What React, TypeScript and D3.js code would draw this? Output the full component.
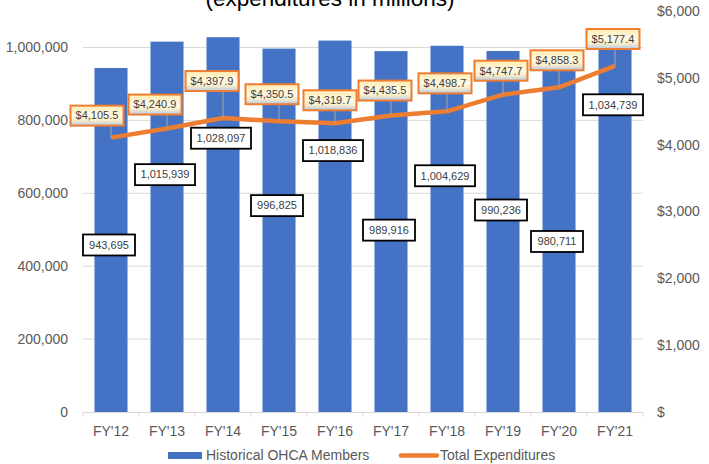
import * as d3 from "d3";

// Chart data
const years = ["FY'12", "FY'13", "FY'14", "FY'15", "FY'16", "FY'17", "FY'18", "FY'19", "FY'20", "FY'21"];
const members = [943695, 1015939, 1028097, 996825, 1018836, 989916, 1004629, 990236, 980711, 1034739];
const expenditures = [4105.5, 4240.9, 4397.9, 4350.5, 4319.7, 4435.5, 4498.7, 4747.7, 4858.3, 5177.4];
const memberTicks = [0, 200000, 400000, 600000, 800000, 1000000];
const expenditureTicks = [0, 1000, 2000, 3000, 4000, 5000, 6000];
const titleText = "(expenditures in millions)";
const legendLabels = ["Historical OHCA Members", "Total Expenditures"];

// Hand placed data label nudges (pixels), like the manual Excel label layout
const memberLabelDy = [177, 133, 101, 157, 110, 179, 130, 159, 187, 70];
const expLabelNudge: [number, number][] = [
  [-14, -22], [-12, -24], [-11, -37], [-7, -27], [-5, -23],
  [-6, -25], [-2, -28], [-2, -24], [-2, -27], [-2, -27],
];

const W = 709;
const H = 464;
const margin = { top: 11, right: 66, bottom: 52, left: 83 };
const FONT = "'Liberation Sans', Arial, sans-serif";

export default function App() {
  const plotBottom = H - margin.bottom;
  const plotRight = W - margin.right;

  const x = d3.scaleBand<string>().domain(years).range([margin.left, plotRight]).paddingInner(0.41).paddingOuter(0.205);
  const band = d3.scaleBand<string>().domain(years).range([margin.left, plotRight]);
  const yLeft = d3.scaleLinear().domain([0, 1100000]).range([plotBottom, margin.top]);
  const yRight = d3.scaleLinear().domain([0, 6000]).range([plotBottom, margin.top]);

  const fmtMembers = d3.format(",");
  const fmtMoney = (v: number) => (v === 0 ? "$" : "$" + d3.format(",")(v));
  const fmtExp = (v: number) => "$" + d3.format(",.1f")(v);

  const cx = (i: number) => (x(years[i]) ?? 0) + x.bandwidth() / 2;

  const line = d3
    .line<number>()
    .x((_, i) => cx(i))
    .y((d) => yRight(d));

  const expBoxW = 53;
  const expBoxH = 20;

  return (
    <svg width={W} height={H} style={{ position: "absolute", left: 0, top: 0, background: "#fff" }} fontFamily={FONT}>
      <defs>
        <linearGradient id="lblGrad" x1="0" y1="0" x2="0" y2="1">
          <stop offset="0%" stopColor="#FFEDB3" />
          <stop offset="50%" stopColor="#FFF8E4" />
          <stop offset="72%" stopColor="#FBEFC9" />
          <stop offset="100%" stopColor="#B4C7E7" />
        </linearGradient>
      </defs>

      {/* title, cut off at the top like the source */}
      <text x={330} y={6} textAnchor="middle" fontSize={22.5} fill="#000">
        {titleText}
      </text>

      {/* gridlines */}
      {memberTicks.slice(1).map((t) => (
        <line key={t} x1={margin.left} x2={plotRight} y1={yLeft(t)} y2={yLeft(t)} stroke="#d9d9d9" strokeWidth={1} />
      ))}

      {/* left axis labels */}
      {memberTicks.map((t) => (
        <text key={t} x={68} y={yLeft(t)} dy="0.35em" textAnchor="end" fontSize={14} fill="#595959">
          {fmtMembers(t)}
        </text>
      ))}

      {/* right axis labels */}
      {expenditureTicks.map((t) => (
        <text key={t} x={657} y={yRight(t)} dy="0.35em" textAnchor="start" fontSize={14} fill="#595959">
          {fmtMoney(t)}
        </text>
      ))}

      {/* bars */}
      {members.map((m, i) => (
        <rect key={i} x={x(years[i])} y={yLeft(m)} width={x.bandwidth()} height={plotBottom - yLeft(m)} fill="#4472C4" />
      ))}

      {/* x axis */}
      <line x1={margin.left} x2={plotRight} y1={plotBottom + 0.5} y2={plotBottom + 0.5} stroke="#d9d9d9" />
      {years.concat([""]).map((_, i) => {
        const bx = margin.left + band.step() * i;
        return <line key={i} x1={bx} x2={bx} y1={plotBottom} y2={plotBottom + 5} stroke="#d9d9d9" />;
      })}
      {years.map((yr, i) => (
        <text key={yr} x={cx(i)} y={plotBottom + 24} textAnchor="middle" fontSize={14} fill="#595959">
          {yr}
        </text>
      ))}

      {/* expenditure line */}
      <path d={line(expenditures) ?? ""} fill="none" stroke="#ED7D31" strokeWidth={4.5} strokeLinejoin="round" />

      {/* member labels */}
      {members.map((m, i) => {
        const label = fmtMembers(m);
        const w = label.length > 7 ? 60 : 52;
        const mx = cx(i) - 2;
        const my = yLeft(m) + memberLabelDy[i];
        return (
          <g key={i}>
            <rect x={mx - w / 2} y={my - 10.5} width={w} height={21} fill="#fff" stroke="#000" strokeWidth={1.8} />
            <text x={mx} y={my} dy="0.35em" textAnchor="middle" fontSize={11} fill="#404040">
              {label}
            </text>
          </g>
        );
      })}

      {/* expenditure labels with leader lines */}
      {expenditures.map((v, i) => {
        const px = cx(i);
        const py = yRight(v);
        const bx = px + expLabelNudge[i][0];
        const by = py + expLabelNudge[i][1];
        const bottom = by + expBoxH / 2;
        const lx = Math.max(bx - expBoxW / 2 + 4, Math.min(bx + expBoxW / 2 - 4, px));
        return (
          <g key={i}>
            <line x1={lx} y1={bottom} x2={px} y2={py} stroke="#A6A6A6" strokeWidth={1} />
            <rect x={bx - expBoxW / 2} y={by - expBoxH / 2} width={expBoxW} height={expBoxH} fill="url(#lblGrad)" stroke="#ED7D31" strokeWidth={2} />
            <text x={bx} y={by} dy="0.35em" textAnchor="middle" fontSize={11} fill="#404040">
              {fmtExp(v)}
            </text>
          </g>
        );
      })}

      {/* legend */}
      <rect x={168} y={452} width={34} height={7} fill="#4472C4" />
      <text x={206} y={455.5} dy="0.35em" fontSize={14} fill="#595959">
        {legendLabels[0]}
      </text>
      <line x1={401} x2={437} y1={455.5} y2={455.5} stroke="#ED7D31" strokeWidth={4.5} strokeLinecap="round" />
      <text x={440} y={455.5} dy="0.35em" fontSize={14} fill="#595959">
        {legendLabels[1]}
      </text>
    </svg>
  );
}
